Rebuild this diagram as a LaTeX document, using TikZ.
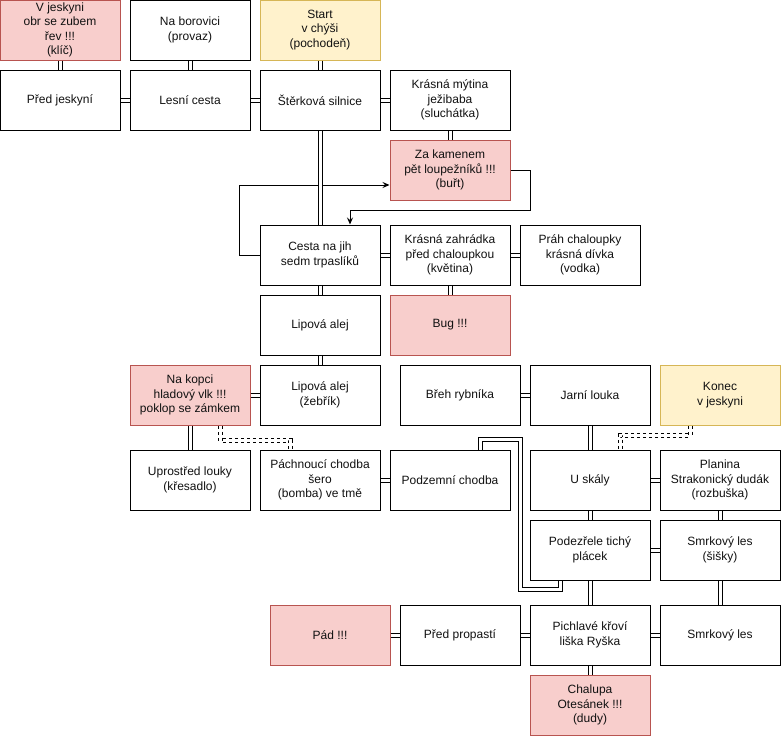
\documentclass[tikz,border=0pt]{standalone}
\usepackage{fontspec}
\setmainfont{Liberation Sans}
\usetikzlibrary{arrows.meta}
\definecolor{redfill}{HTML}{F8CECC}
\definecolor{redline}{HTML}{B85450}
\definecolor{yelfill}{HTML}{FFF2CC}
\definecolor{yelline}{HTML}{D6B656}
\definecolor{txt}{HTML}{111111}
\tikzset{
  box/.style={draw=black, line width=1pt, fill=white, minimum width=120pt, minimum height=60pt,
    inner sep=0pt, align=center, text=txt, font=\fontsize{12}{14.4}\selectfont},
  redbox/.style={box, fill=redfill, draw=redline},
  yelbox/.style={box, fill=yelfill, draw=yelline},
  link/.style={draw=black, line width=1pt, double=white, double distance=3pt},
  dlink/.style={link, dash pattern=on 3pt off 3pt},
  arr/.style={draw=black, line width=1pt, -{Stealth[length=7pt,width=6pt,inset=2.5pt]}}
}
\begin{document}
\begin{tikzpicture}[x=1pt, y=-1pt]
\useasboundingbox (0,0) rectangle (781,736);
% row 0
\node[redbox] (vj) at (60,30) {V jeskyni\\obr se zubem\\řev !!!\\(klíč)};
\node[box] (nb) at (190,30) {Na borovici\\(provaz)};
\node[yelbox] (st) at (320,30) {Start\\v chýši\\(pochodeň)};
% row 1
\node[box] (pj) at (60,100) {Před jeskyní};
\node[box] (lc) at (190,100) {Lesní cesta};
\node[box] (ss) at (320,100) {Štěrková silnice};
\node[box] (km) at (450,100) {Krásná mýtina\\ježibaba\\(sluchátka)};
\node[redbox] (zk) at (450,170) {Za kamenem\\pět loupežníků !!!\\(buřt)};
% row cesta
\node[box] (cj) at (320,255) {Cesta na jih\\sedm trpaslíků};
\node[box] (kz) at (450,255) {Krásná zahrádka\\před chaloupkou\\(květina)};
\node[box] (pc) at (580,255) {Práh chaloupky\\krásná dívka\\(vodka)};
\node[box] (la) at (320,325) {Lipová alej};
\node[redbox] (bug) at (450,325) {Bug !!!};
% row kopec
\node[redbox] (nk) at (190,395) {Na kopci\\hladový vlk !!!\\poklop se zámkem};
\node[box] (lz) at (320,395) {Lipová alej\\(žebřík)};
\node[box] (br) at (460,395) {Břeh rybníka};
\node[box] (jl) at (590,395) {Jarní louka};
\node[yelbox] (kon) at (720,395) {Konec\\v jeskyni};
% row louka
\node[box] (ul) at (190,480) {Uprostřed louky\\(křesadlo)};
\node[box] (pch) at (320,480) {Páchnoucí chodba\\šero\\(bomba) ve tmě};
\node[box] (pz) at (450,480) {Podzemní chodba};
\node[box] (us) at (590,480) {U skály};
\node[box] (pl) at (720,480) {Planina\\Strakonický dudák\\(rozbuška)};
\node[box] (pt) at (590,550) {Podezřele tichý\\plácek};
\node[box] (sla) at (720,550) {Smrkový les\\(šišky)};
% row propast
\node[redbox] (pad) at (330,635) {Pád !!!};
\node[box] (pp) at (460,635) {Před propastí};
\node[box] (pk) at (590,635) {Pichlavé křoví\\liška Ryška};
\node[box] (slb) at (720,635) {Smrkový les};
\node[redbox] (ch) at (590,705) {Chalupa\\Otesánek !!!\\(dudy)};
% arrows
\draw[arr] (cj.west) -- ++(-20,0) |- ([yshift=-15pt]zk.west);
\draw[arr] (zk.east) -| ++(20,40) -| ([xshift=30pt]cj.north);
% links
\draw[link] (vj) -- (pj);
\draw[link] (nb) -- (lc);
\draw[link] (st) -- (ss);
\draw[link] (pj) -- (lc);
\draw[link] (lc) -- (ss);
\draw[link] (ss) -- (km);
\draw[link] (km) -- (zk);
\draw[link] (ss) -- (cj);
\draw[link] (cj) -- (kz);
\draw[link] (kz) -- (pc);
\draw[link] (kz) -- (bug);
\draw[link] (cj) -- (la);
\draw[link] (la) -- (lz);
\draw[link] (nk) -- (lz);
\draw[link] (nk) -- (ul);
\draw[link] (pch) -- (pz);
\draw[link] (br) -- (jl);
\draw[link] (jl) -- (us);
\draw[link] (us) -- (pl);
\draw[link] (us) -- (pt);
\draw[link] (pl) -- (sla);
\draw[link] (pt) -- (sla);
\draw[link] (pt) -- (pk);
\draw[link] (sla) -- (slb);
\draw[link] (pad) -- (pp);
\draw[link] (pp) -- (pk);
\draw[link] (pk) -- (slb);
\draw[link] (pk) -- (ch);
\draw[link] ([xshift=30pt]pz.north) -- ++(0,-10) -| ++(40,150) -| ([xshift=-30pt]pt.south);
\draw[dlink] ([xshift=30pt]nk.south) -- ++(0,15) -| ([xshift=-30pt]pch.north);
\draw[dlink] ([xshift=-30pt]kon.south) -- ++(0,10) -| ([xshift=30pt]us.north);
\end{tikzpicture}
\end{document}
